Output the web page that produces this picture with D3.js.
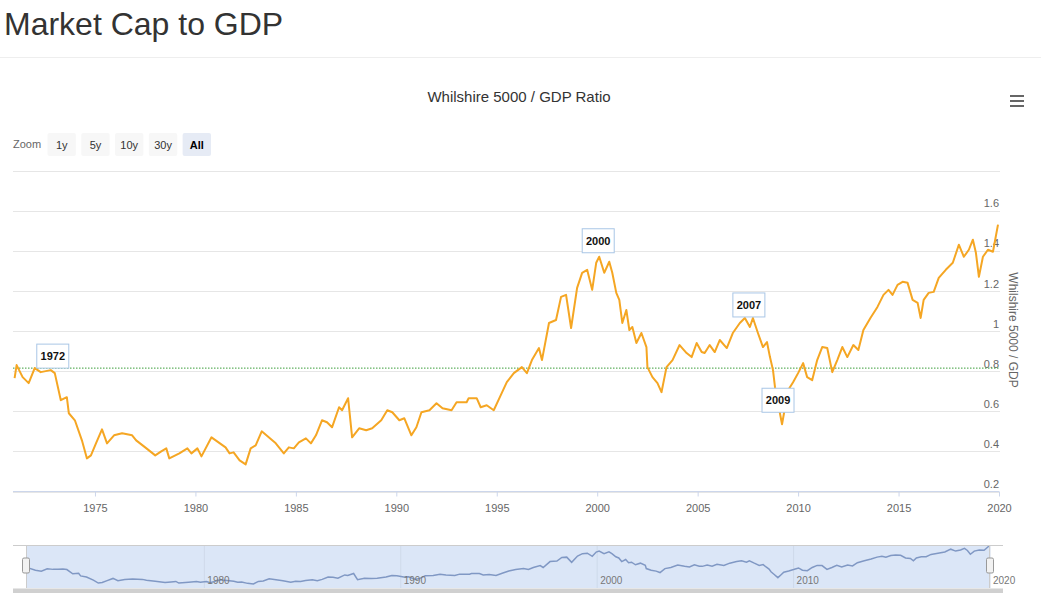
<!DOCTYPE html>
<html>
<head>
<meta charset="utf-8">
<script src="https://cdn.jsdelivr.net/npm/d3@7"></script>
<style>
  body { margin: 0; background: #fff; }
  svg text { font-family: "Liberation Sans", Arial, sans-serif; }
</style>
</head>
<body>
<div id="chart"></div>
<script>
// Wilshire 5000 / GDP ratio

var years = [1971.0, 1971.1, 1971.4, 1971.7, 1972.0, 1972.3, 1972.55, 1972.8, 1973.0, 1973.3, 1973.6, 1973.7,
  1974.0, 1974.35, 1974.6, 1974.8, 1975.05, 1975.35, 1975.6, 1975.95, 1976.35, 1976.85, 1977.05, 1977.5,
  1978.0, 1978.3, 1978.55, 1978.7, 1979.2, 1979.6, 1979.8, 1980.1, 1980.3, 1980.8, 1981.15, 1981.5,
  1981.7, 1981.9, 1982.2, 1982.5, 1982.75, 1983.0, 1983.3, 1983.65, 1984.0, 1984.4, 1984.65, 1984.9,
  1985.15, 1985.5, 1985.75, 1986.0, 1986.3, 1986.55, 1986.8, 1987.15, 1987.3, 1987.6, 1987.8, 1988.15,
  1988.5, 1988.8, 1989.25, 1989.55, 1989.8, 1990.15, 1990.4, 1990.75, 1991.0, 1991.25, 1991.65, 1992.0,
  1992.3, 1992.75, 1993.0, 1993.5, 1993.6, 1994.0, 1994.2, 1994.5, 1994.85, 1995.2, 1995.5, 1995.85,
  1996.25, 1996.5, 1996.75, 1997.1, 1997.25, 1997.6, 1997.95, 1998.2, 1998.45, 1998.7, 1999.0, 1999.25,
  1999.5, 1999.75, 1999.95, 2000.1, 2000.35, 2000.6, 2000.75, 2000.95, 2001.1, 2001.25, 2001.45, 2001.6,
  2001.75, 2001.95, 2002.2, 2002.45, 2002.5, 2002.75, 2003.0, 2003.2, 2003.45, 2003.75, 2004.1, 2004.45,
  2004.7, 2004.95, 2005.2, 2005.35, 2005.6, 2005.85, 2006.1, 2006.45, 2006.75, 2007.1, 2007.35, 2007.6,
  2007.75, 2008.0, 2008.25, 2008.45, 2008.6, 2008.75, 2008.85, 2009.0, 2009.2, 2009.35, 2009.5, 2009.75,
  2010.0, 2010.25, 2010.45, 2010.7, 2010.95, 2011.2, 2011.45, 2011.7, 2011.95, 2012.2, 2012.45, 2012.75,
  2013.0, 2013.25, 2013.6, 2013.95, 2014.25, 2014.5, 2014.7, 2014.95, 2015.2, 2015.45, 2015.7, 2015.95,
  2016.1, 2016.25, 2016.5, 2016.75, 2017.0, 2017.35, 2017.7, 2018.0, 2018.25, 2018.5, 2018.7, 2018.85,
  2019.0, 2019.2, 2019.45, 2019.7, 2019.95];

var ratio = [0.765, 0.83, 0.77, 0.74, 0.815, 0.795, 0.80, 0.805, 0.79, 0.655, 0.67, 0.59,
  0.555, 0.455, 0.365, 0.38, 0.44, 0.51, 0.44, 0.48, 0.49, 0.48, 0.455, 0.42,
  0.38, 0.40, 0.415, 0.365, 0.39, 0.415, 0.39, 0.415, 0.375, 0.47, 0.445, 0.42,
  0.39, 0.395, 0.355, 0.335, 0.415, 0.43, 0.50, 0.47, 0.44, 0.39, 0.42, 0.415,
  0.445, 0.465, 0.44, 0.48, 0.555, 0.545, 0.52, 0.62, 0.605, 0.665, 0.47, 0.515,
  0.505, 0.515, 0.555, 0.605, 0.595, 0.555, 0.565, 0.48, 0.52, 0.595, 0.605, 0.64,
  0.615, 0.605, 0.645, 0.645, 0.665, 0.665, 0.62, 0.63, 0.605, 0.68, 0.745, 0.79,
  0.82, 0.79, 0.855, 0.915, 0.855, 1.04, 1.055, 1.17, 1.18, 1.015, 1.215, 1.29,
  1.305, 1.205, 1.34, 1.37, 1.29, 1.345, 1.29, 1.19, 1.155, 1.04, 1.105, 1.005,
  1.02, 0.94, 0.99, 0.92, 0.82, 0.77, 0.74, 0.695, 0.82, 0.855, 0.93, 0.89,
  0.87, 0.94, 0.895, 0.89, 0.93, 0.895, 0.955, 0.915, 0.99, 1.04, 1.065, 1.02,
  1.065, 0.99, 0.92, 0.945, 0.87, 0.805, 0.72, 0.64, 0.535, 0.62, 0.705, 0.745,
  0.79, 0.84, 0.77, 0.755, 0.855, 0.92, 0.915, 0.795, 0.855, 0.92, 0.87, 0.93,
  0.905, 1.005, 1.065, 1.12, 1.18, 1.205, 1.18, 1.23, 1.245, 1.24, 1.155, 1.14,
  1.065, 1.155, 1.19, 1.195, 1.265, 1.305, 1.34, 1.43, 1.37, 1.405, 1.455, 1.39,
  1.27, 1.37, 1.405, 1.395, 1.53];

var xTicks = [1975, 1980, 1985, 1990, 1995, 2000, 2005, 2010, 2015, 2020];
var yTicks = [0.2, 0.4, 0.6, 0.8, 1, 1.2, 1.4, 1.6, 1.8];
var yLabels = [0.2, 0.4, 0.6, 0.8, 1, 1.2, 1.4, 1.6];
var navTicks = [1980, 1990, 2000, 2010, 2020];
var zoomButtons = ["1y", "5y", "10y", "30y", "All"];

var flagLabels = ["1972", "2000", "2007", "2009"];
var flagYears = [1972.9, 2000.05, 2007.55, 2009.0];
var flagLevels = [0.815, 1.39, 1.07, 0.595];

var averageRatio = 0.815;

var W = 1041, H = 593;

function createChart(){
  var svg = d3.select("#chart").append("svg")
      .attr("width", W)
      .attr("height", H);

  var data = years.map(function(d, i){ return {year: d, value: ratio[i]}; });

  // page heading
  svg.append("text")
      .attr("x", 4).attr("y", 35)
      .attr("font-size", 32)
      .attr("fill", "#333")
      .text("Market Cap to GDP");
  svg.append("line")
      .attr("x1", 0).attr("x2", W)
      .attr("y1", 57.5).attr("y2", 57.5)
      .attr("stroke", "#eeeeee");

  // chart title and menu
  svg.append("text")
      .attr("x", 519).attr("y", 102)
      .attr("text-anchor", "middle")
      .attr("font-size", 15)
      .attr("fill", "#333")
      .text("Whilshire 5000 / GDP Ratio");
  [96, 101, 106].forEach(function(yy){
    svg.append("line")
        .attr("x1", 1010).attr("x2", 1024)
        .attr("y1", yy).attr("y2", yy)
        .attr("stroke", "#666").attr("stroke-width", 2);
  });

  // range selector
  svg.append("text")
      .attr("x", 13).attr("y", 148)
      .attr("font-size", 11)
      .attr("fill", "#666")
      .text("Zoom");
  var bx = d3.scaleBand()
      .domain(zoomButtons)
      .range([47.5, 211])
      .paddingInner(0.16);
  var btn = svg.append("g").selectAll("g")
      .data(zoomButtons)
      .enter().append("g")
      .attr("transform", function(d){ return "translate(" + bx(d) + ",133)"; });
  btn.append("rect")
      .attr("width", bx.bandwidth())
      .attr("height", 23)
      .attr("rx", 2)
      .attr("fill", function(d){ return d == "All" ? "#e6ebf5" : "#f7f7f7"; });
  btn.append("text")
      .attr("x", bx.bandwidth() / 2)
      .attr("y", 15.5)
      .attr("text-anchor", "middle")
      .attr("font-size", 11)
      .attr("font-weight", function(d){ return d == "All" ? "bold" : "normal"; })
      .attr("fill", function(d){ return d == "All" ? "#000" : "#333"; })
      .text(function(d){ return d; });

  // main plot
  var x = d3.scaleLinear().domain([1970.92, 2020]).range([13, 999]);
  var y = d3.scaleLinear().domain([0.2, 1.8]).range([491.5, 170.5]);

  svg.append("g")
      .selectAll("line")
      .data(yTicks)
      .enter().append("line")
      .attr("x1", 13).attr("x2", 1000)
      .attr("y1", function(d){ return Math.round(y(d)) + 0.5; })
      .attr("y2", function(d){ return Math.round(y(d)) + 0.5; })
      .attr("stroke", "#e6e6e6");

  var yAxis = svg.append("g")
      .attr("transform", "translate(1000,0)")
      .call(d3.axisLeft(y).tickValues(yLabels).tickSize(0).tickFormat(d3.format("~g")));
  yAxis.select(".domain").remove();
  yAxis.selectAll("text")
      .attr("x", -1)
      .attr("dy", "-0.35em")
      .attr("font-size", 11)
      .attr("font-family", "Liberation Sans, Arial, sans-serif")
      .attr("fill", "#666");

  svg.append("text")
      .attr("transform", "translate(1009,330) rotate(90)")
      .attr("text-anchor", "middle")
      .attr("font-size", 12)
      .attr("fill", "#666")
      .text("Whilshire 5000 / GDP");

  var xAxis = svg.append("g")
      .attr("transform", "translate(0,491.5)")
      .call(d3.axisBottom(x).tickValues(xTicks).tickSize(5).tickPadding(8).tickFormat(d3.format("d")));
  xAxis.select(".domain").attr("stroke", "#ccd6eb").attr("d", "M13,0H999");
  xAxis.selectAll(".tick line").attr("stroke", "#ccd6eb");
  xAxis.selectAll("text")
      .attr("font-size", 11)
      .attr("font-family", "Liberation Sans, Arial, sans-serif")
      .attr("fill", "#666");

  // long-run average
  svg.append("line")
      .attr("x1", 13).attr("x2", 1000)
      .attr("y1", y(averageRatio)).attr("y2", y(averageRatio))
      .attr("stroke", "#3a9d3a")
      .attr("stroke-width", 1)
      .attr("stroke-dasharray", "1.5,1.5");

  var line = d3.line()
      .x(function(d){ return x(d.year); })
      .y(function(d){ return y(d.value); });

  svg.append("path")
      .datum(data)
      .attr("d", line)
      .attr("fill", "none")
      .attr("stroke", "#f5a623")
      .attr("stroke-width", 2)
      .attr("stroke-linejoin", "round");

  // flags
  var flags = svg.append("g").selectAll("g")
      .data(flagLabels)
      .enter().append("g")
      .attr("transform", function(d, i){ return "translate(" + x(flagYears[i]) + "," + y(flagLevels[i]) + ")"; });
  flags.append("rect")
      .attr("x", -16).attr("y", -24)
      .attr("width", 32).attr("height", 24)
      .attr("fill", "#fff")
      .attr("stroke", "#a9c6e6");
  flags.append("text")
      .attr("y", -8)
      .attr("text-anchor", "middle")
      .attr("font-size", 11)
      .attr("font-weight", "bold")
      .attr("fill", "#111")
      .text(function(d){ return d; });

  // navigator
  var xn = d3.scaleLinear().domain([1970.92, 2020]).range([26, 990]);
  var yn = d3.scaleLinear().domain(d3.extent(ratio)).range([584, 546]);

  svg.append("rect")
      .attr("x", 26).attr("y", 545)
      .attr("width", 964).attr("height", 43)
      .attr("fill", "#dbe6f7");

  svg.append("g")
      .selectAll("line")
      .data(navTicks)
      .enter().append("line")
      .attr("x1", function(d){ return xn(d); })
      .attr("x2", function(d){ return xn(d); })
      .attr("y1", 545).attr("y2", 588)
      .attr("stroke", "#cfdaea");

  svg.append("path")
      .datum(data)
      .attr("d", d3.line()
        .x(function(d){ return xn(d.year); })
        .y(function(d){ return yn(d.value); }))
      .attr("fill", "none")
      .attr("stroke", "#8098c4")
      .attr("stroke-width", 1.5);

  svg.append("g")
      .selectAll("text")
      .data(navTicks)
      .enter().append("text")
      .attr("x", function(d){ return xn(d) + 3; })
      .attr("y", 584)
      .attr("font-size", 10)
      .attr("fill", "#777")
      .text(function(d){ return d; });

  svg.append("path")
      .attr("d", "M13,545.5H1003M26.5,545.5V588M989.5,545.5V588")
      .attr("fill", "none")
      .attr("stroke", "#cccccc");

  [26, 990].forEach(function(hx){
    svg.append("rect")
        .attr("x", hx - 3.5).attr("y", 558)
        .attr("width", 7).attr("height", 15)
        .attr("rx", 1.5)
        .attr("fill", "#f2f2f2")
        .attr("stroke", "#999");
  });

  // scrollbar
  svg.append("rect")
      .attr("x", 13).attr("y", 588.5)
      .attr("width", 990).attr("height", 8)
      .attr("fill", "#d0d0d0");
}

createChart();
</script>
</body>
</html>
